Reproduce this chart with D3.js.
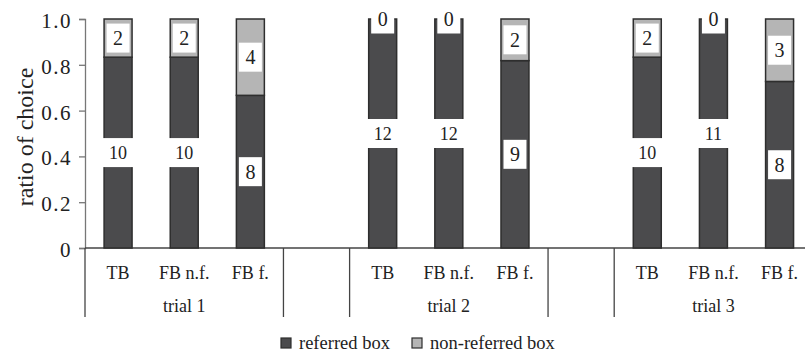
<!DOCTYPE html>
<html><head><meta charset="utf-8">
<script src="https://cdn.jsdelivr.net/npm/d3@7"></script>
</head><body style="margin:0;background:#fff"><div id="chart"></div>
<script>
const categories = ["TB","FB n.f.","FB f.","","TB","FB n.f.","FB f.","","TB","FB n.f.","FB f."];
const groups = ["trial 1","trial 2","trial 3"];
const referred =    [10,10,8,null,12,12,9,null,10,11,8];
const nonReferred = [2,2,4,null,0,0,2,null,2,0,3];
const yTicks = [0,0.2,0.4,0.6,0.8,1.0];
const legendLabels = ["referred box","non-referred box"];

const FONT = "Liberation Serif";
const W = 805, H = 355;
const svg = d3.select("#chart").append("svg").attr("width", W).attr("height", H).style("display","block");
const x0 = 85, x1 = 85 + 11*66.15;
const x = d3.scaleBand().domain(d3.range(categories.length)).range([x0, x1]).paddingInner(0.577).paddingOuter(0.2885);
const y = d3.scaleLinear().domain([0,1]).range([248, 19]);
const dark = "#4b4b4d", light = "#b5b5b5", stroke = "#2e2e2e";

// y axis
const gy = svg.append("g").attr("transform", `translate(${x0},0)`).call(d3.axisLeft(y).tickValues(yTicks).tickSize(6).tickFormat(d => d === 0 ? "0" : d3.format(".1f")(d)));
gy.attr("font-family", FONT).attr("font-size", 21);
gy.select(".domain").attr("stroke", "#777").attr("stroke-width", 1.3);
gy.selectAll(".tick line").attr("stroke", "#777").attr("stroke-width", 1.3);
gy.selectAll(".tick text").attr("fill", "#222").attr("x", -13).attr("letter-spacing", 1.5).attr("dy", "0.4em");

const T = (sel) => sel.attr("font-family", FONT).attr("fill", "#222");

T(svg.append("text")).attr("transform", "translate(33,137) rotate(-90)").attr("text-anchor", "middle").attr("font-size", 24).text("ratio of choice");

// x axis line + dividers
svg.append("line").attr("x1", x0).attr("x2", x1).attr("y1", y(0)).attr("y2", y(0)).attr("stroke", "#444").attr("stroke-width", 1.3);
const step = x.step();
[0,3,4,7,8,11].forEach(i => {
  svg.append("line").attr("x1", x0 + i*step).attr("x2", x0 + i*step).attr("y1", y(0)).attr("y2", 317).attr("stroke", "#444").attr("stroke-width", 1.3);
});
T(svg.selectAll("text.cat").data(categories).enter().append("text").attr("class","cat"))
  .attr("x", (d,i) => x(i) + x.bandwidth()/2).attr("y", 279).attr("text-anchor","middle").attr("font-size", 18).text(d => d);
T(svg.selectAll("text.grp").data(groups).enter().append("text").attr("class","grp"))
  .attr("x", (d,i) => x0 + (i*4 + 1.5)*step).attr("y", 312).attr("text-anchor","middle").attr("font-size", 18).text(d => d);

// bars
const rows = categories.map((c,i) => ({i, r: referred[i], n: nonReferred[i]})).filter(d => d.r !== null);
rows.forEach(d => {
  const tot = d.r + d.n, fr = d.r / tot;
  const bx = x(d.i), bw = x.bandwidth();
  svg.append("rect").attr("x", bx).attr("width", bw).attr("y", y(fr)).attr("height", y(0) - y(fr)).attr("fill", dark).attr("stroke", stroke).attr("stroke-width", 1.5);
  if (d.n > 0) svg.append("rect").attr("x", bx).attr("width", bw).attr("y", y(1)).attr("height", y(fr) - y(1)).attr("fill", light).attr("stroke", stroke).attr("stroke-width", 1.5);
});
// labels
rows.forEach(d => {
  const tot = d.r + d.n, fr = d.r / tot;
  const cx = x(d.i) + x.bandwidth()/2;
  [[d.r, y(fr/2)], [d.n, y((1 + fr)/2)]].forEach(([v, cy]) => {
    const s = String(v);
    const fs = s.length > 1 ? 18 : 20;
    const bw = s.length > 1 ? 32 : 23;
    svg.append("rect").attr("x", cx - bw/2).attr("y", cy - 14.5).attr("width", bw).attr("height", 29).attr("fill", "#fff");
    T(svg.append("text")).attr("x", cx).attr("y", cy).attr("dy", "0.35em").attr("text-anchor","middle").attr("font-size", fs).text(s);
  });
});

// legend
const lx = [281, 412];
legendLabels.forEach((l,i) => {
  svg.append("rect").attr("x", lx[i]).attr("y", 338).attr("width", 10).attr("height", 10).attr("fill", i ? light : dark).attr("stroke", stroke).attr("stroke-width", 1.2);
  T(svg.append("text")).attr("x", lx[i] + 18).attr("y", 349).attr("font-size", 18.5).text(l);
});
</script></body></html>
